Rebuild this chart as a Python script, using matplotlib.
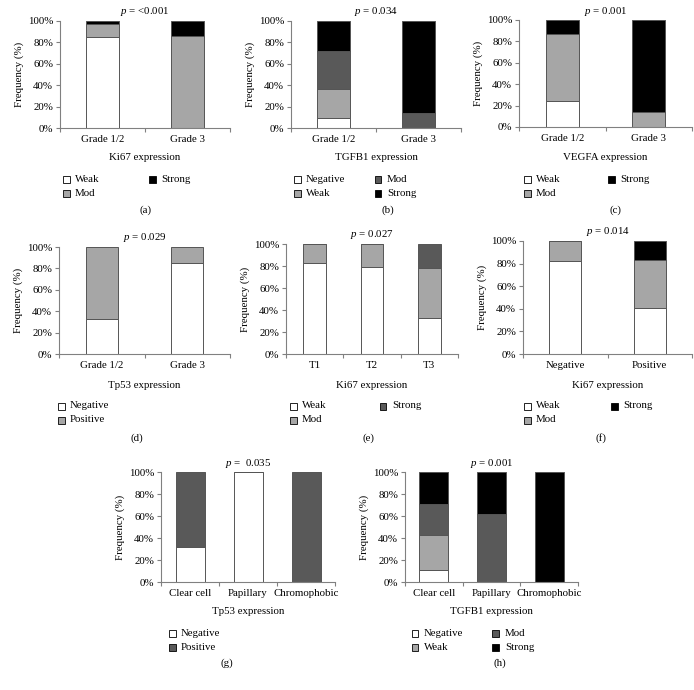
import matplotlib
matplotlib.use("Agg")
import matplotlib.pyplot as plt

plt.rcParams["font.family"] = "Liberation Serif"
plt.rcParams["mathtext.fontset"] = "custom"
plt.rcParams["mathtext.rm"] = "Liberation Serif"
plt.rcParams["mathtext.it"] = "Liberation Serif:italic"
plt.rcParams["font.size"] = 7.8

W, H = 694, 690
WHITE, LIGHT, DARK, BLACK = "#ffffff", "#a6a6a6", "#595959", "#000000"

# (a) Ki67 by grade
a_cats = ["Grade 1/2", "Grade 3"]
a_weak = [85, 0]
a_mod = [12, 86]
a_strong = [3, 14]

# (b) TGFB1 by grade
b_cats = ["Grade 1/2", "Grade 3"]
b_neg = [9, 0]
b_weak = [27, 0]
b_mod = [36, 14]
b_strong = [28, 86]

# (c) VEGFA by grade
c_cats = ["Grade 1/2", "Grade 3"]
c_weak = [24, 0]
c_mod = [63, 14]
c_strong = [13, 86]

# (d) Tp53 by grade
d_cats = ["Grade 1/2", "Grade 3"]
d_neg = [33, 85]
d_pos = [67, 15]

# (e) Ki67 by T stage
e_cats = ["T1", "T2", "T3"]
e_weak = [83, 79, 33]
e_mod = [17, 21, 45]
e_strong = [0, 0, 22]

# (f) Ki67 by Tp53 status
f_cats = ["Negative", "Positive"]
f_weak = [82, 41]
f_mod = [18, 42]
f_strong = [0, 17]

# (g) Tp53 by histology
g_cats = ["Clear cell", "Papillary", "Chromophobic"]
g_neg = [32, 100, 0]
g_pos = [68, 0, 100]

# (h) TGFB1 by histology
h_cats = ["Clear cell", "Papillary", "Chromophobic"]
h_neg = [11, 0, 0]
h_weak = [32, 0, 0]
h_mod = [28, 62, 0]
h_strong = [29, 38, 100]

fig = plt.figure(figsize=(W / 100, H / 100), dpi=100)


def fx(px):
    return px / W


def fy(py):
    return 1 - py / H


def panel(box, cats, series, names, colors, xlabel, pval, letter,
          col2_dx, leg_x, rows_y, label_y, letter_x, letter_y, bar_w=0.38):
    left, right, top, bottom = box
    ax = fig.add_axes([fx(left), fy(bottom), fx(right - left), (bottom - top) / H])
    x = list(range(len(cats)))
    base = [0] * len(cats)
    for vals, col in zip(series, colors):
        ax.bar(x, vals, bar_w, bottom=base, color=col, edgecolor="#555555",
               linewidth=0.7)
        base = [b + v for b, v in zip(base, vals)]
    ax.set_xlim(-0.5, len(cats) - 0.5)
    ax.set_ylim(0, 100)
    ax.set_yticks(range(0, 101, 20))
    ax.set_yticklabels([f"{v}%" for v in range(0, 101, 20)])
    ax.set_xticks(x)
    ax.set_xticklabels(cats)
    ax.set_xticks([i - 0.5 for i in range(len(cats) + 1)], minor=True)
    ax.tick_params(axis="x", which="major", length=0, pad=5)
    ax.tick_params(axis="x", which="minor", length=3, color="#808080", width=0.8)
    ax.tick_params(axis="y", length=3, color="#808080", width=0.8, pad=2)
    for s in ["top", "right"]:
        ax.spines[s].set_visible(False)
    for s in ["left", "bottom"]:
        ax.spines[s].set_color("#808080")
        ax.spines[s].set_linewidth(0.8)
    ax.set_ylabel("Frequency (%)", labelpad=3)
    cx = (left + right) / 2
    fig.text(fx(cx), fy(top - 9), pval, ha="center", va="center")
    fig.text(fx(cx), fy(label_y), xlabel, ha="center", va="center")
    # legend, filled column by column
    nrows = 2
    for i, (nm, col) in enumerate(zip(names, colors)):
        c, r = divmod(i, nrows)
        sx = leg_x + c * col2_dx
        sy = rows_y[r]
        fig.patches.append(plt.Rectangle((fx(sx - 3.5), fy(sy + 3.5)), 7 / W, 7 / H,
                                         transform=fig.transFigure,
                                         facecolor=col, edgecolor="black",
                                         linewidth=0.6))
        fig.text(fx(sx + 9), fy(sy), nm, ha="left", va="center")
    fig.text(fx(letter_x), fy(letter_y), letter, ha="center", va="center")
    return ax


panel((60, 230, 21, 128), a_cats, [a_weak, a_mod, a_strong],
      ["Weak", "Mod", "Strong"], [WHITE, LIGHT, BLACK], "Ki67 expression",
      "$p$ = <0.001", "(a)", 86, 66, (179, 193), 158, 145, 210)

panel((291, 461, 21, 128), b_cats, [b_neg, b_weak, b_mod, b_strong],
      ["Negative", "Weak", "Mod", "Strong"], [WHITE, LIGHT, DARK, BLACK],
      "TGFB1 expression", "$p$ = 0.034", "(b)", 81, 297, (179, 193), 158,
      388, 210)

panel((519, 692, 20, 127), c_cats, [c_weak, c_mod, c_strong],
      ["Weak", "Mod", "Strong"], [WHITE, LIGHT, BLACK], "VEGFA expression",
      "$p$ = 0.001", "(c)", 84, 527, (179, 193), 158, 615, 210)

panel((59, 230, 247, 354), d_cats, [d_neg, d_pos],
      ["Negative", "Positive"], [WHITE, LIGHT], "Tp53 expression",
      "$p$ = 0.029", "(d)", 0, 61, (406, 420), 386, 137, 438)

panel((286, 458, 244, 354), e_cats, [e_weak, e_mod, e_strong],
      ["Weak", "Mod", "Strong"], [WHITE, LIGHT, DARK], "Ki67 expression",
      "$p$ = 0.027", "(e)", 90, 293, (406, 420), 385, 368, 438, bar_w=0.4)

panel((523, 692, 241, 354), f_cats, [f_weak, f_mod, f_strong],
      ["Weak", "Mod", "Strong"], [WHITE, LIGHT, BLACK], "Ki67 expression",
      "$p$ = 0.014", "(f)", 87, 527, (406, 420), 385, 601, 438)

panel((161, 335, 472, 582), g_cats, [g_neg, g_pos],
      ["Negative", "Positive"], [WHITE, DARK], "Tp53 expression",
      "$p$ =  0.035", "(g)", 0, 172, (633, 647), 611, 227, 663, bar_w=0.5)

panel((405, 578, 472, 582), h_cats, [h_neg, h_weak, h_mod, h_strong],
      ["Negative", "Weak", "Mod", "Strong"], [WHITE, LIGHT, DARK, BLACK],
      "TGFB1 expression", "$p$ = 0.001", "(h)", 81, 415, (633, 647), 611,
      500, 663, bar_w=0.5)

fig.savefig("out.png", dpi=100)
